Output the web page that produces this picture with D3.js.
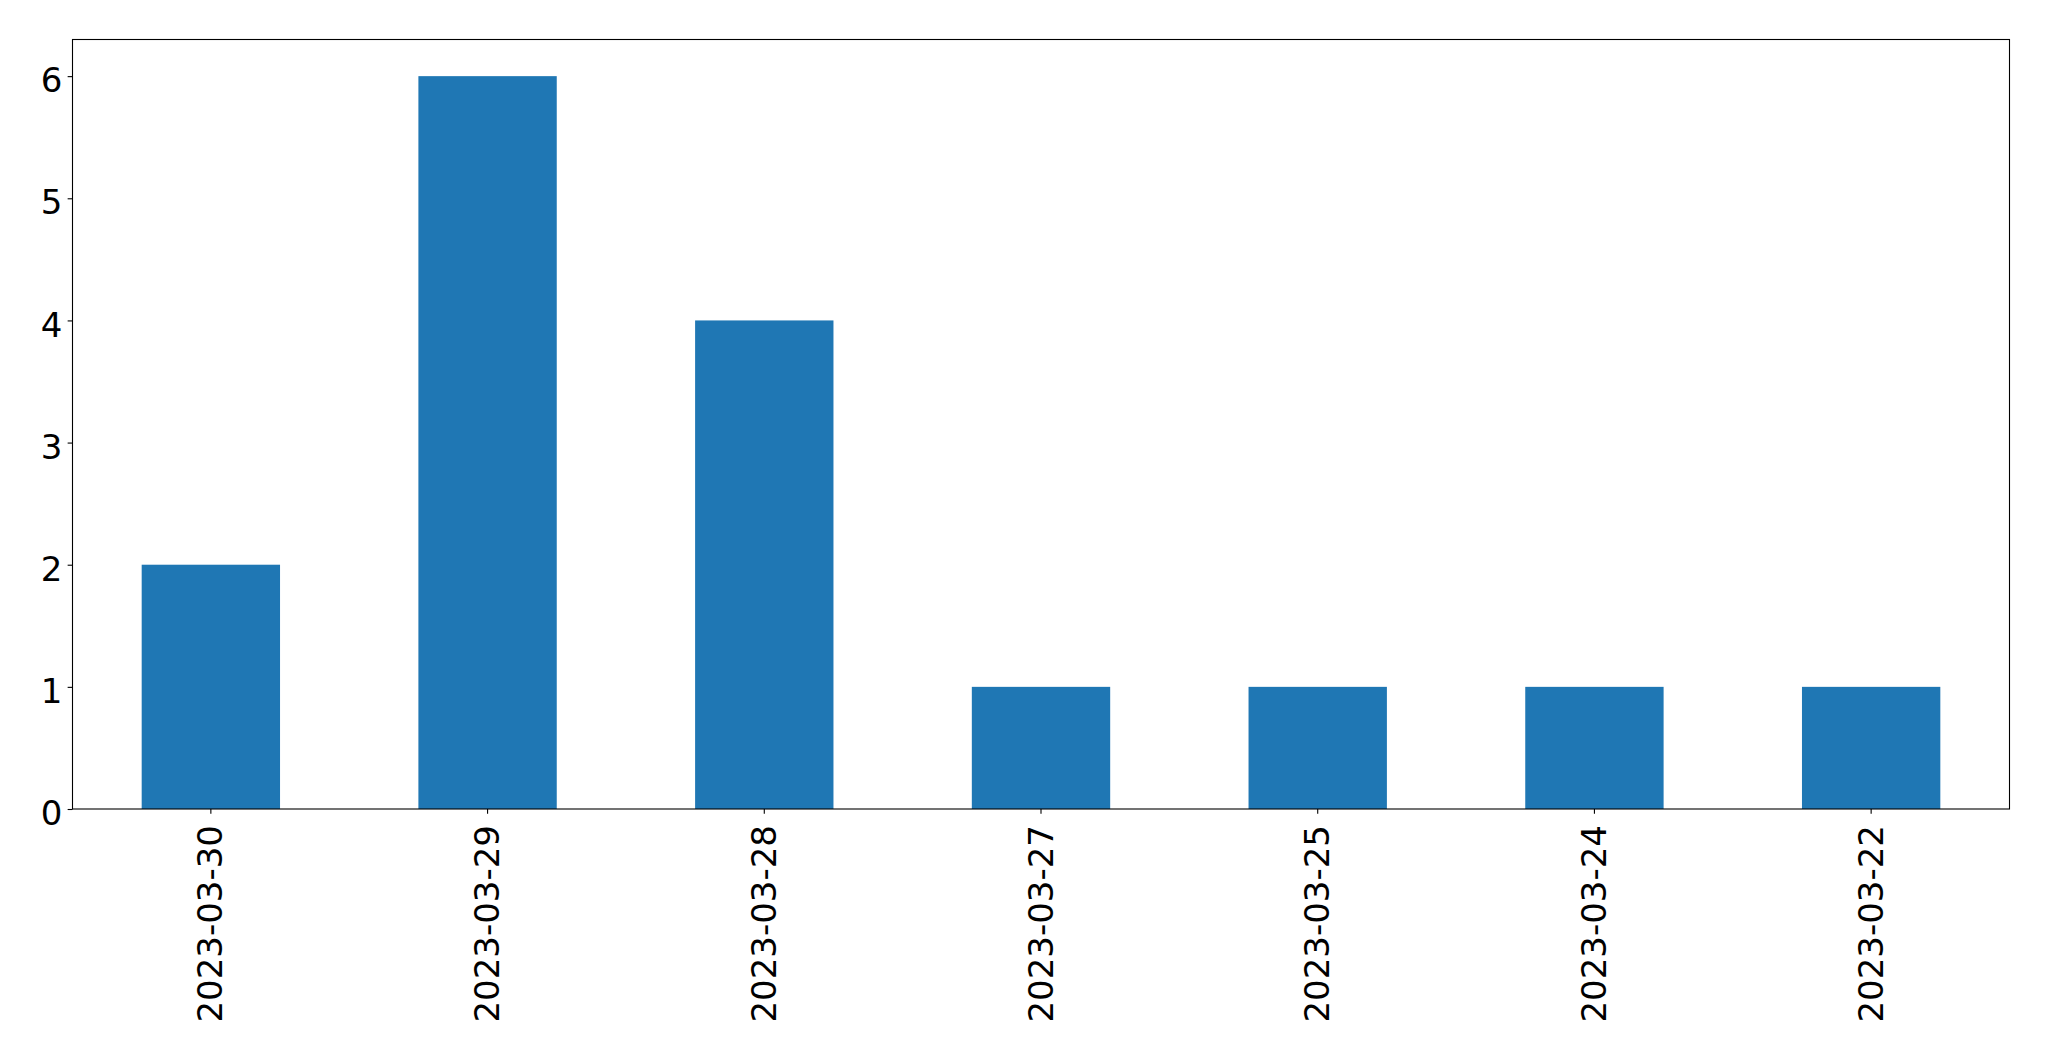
<!DOCTYPE html>
<html>
<head>
<meta charset="utf-8">
<script src="https://cdn.jsdelivr.net/npm/d3@7"></script>
<style>
  html, body { margin: 0; padding: 0; background: #fff; }
  svg { display: block; }
  text { font-family: "DejaVu Sans", sans-serif; fill: #000; }
</style>
</head>
<body>
<svg id="chart" width="2049" height="1061"></svg>
<script>
const categories = ["2023-03-30", "2023-03-29", "2023-03-28", "2023-03-27", "2023-03-25", "2023-03-24", "2023-03-22"];
const values = [2, 6, 4, 1, 1, 1, 1];
const yTicks = [0, 1, 2, 3, 4, 5, 6];

const W = 2049, H = 1061;
const margin = { left: 72.5, right: W - 2009.5, top: 39.5, bottom: H - 809 };
const plotW = W - margin.left - margin.right;
const plotH = H - margin.top - margin.bottom;

const svg = d3.select("#chart");
const g = svg.append("g").attr("transform", `translate(${margin.left},${margin.top})`);

const x = d3.scaleBand().domain(categories).range([0, plotW]).paddingInner(0.5).paddingOuter(0.25);
const y = d3.scaleLinear().domain([0, d3.max(values) * 1.05]).range([plotH, 0]);

g.selectAll("rect.bar").data(values).enter().append("rect")
  .attr("class", "bar")
  .attr("x", (d, i) => x(categories[i]))
  .attr("width", x.bandwidth())
  .attr("y", d => y(d))
  .attr("height", d => y(0) - y(d))
  .attr("fill", "#1f77b4");

const fs = 34;
const tickLen = 4.86;

// y axis
const yAxis = d3.axisLeft(y).tickValues(yTicks).tickFormat(d3.format("d")).tickSize(tickLen).tickPadding(4.86);
const ya = g.append("g").call(yAxis);
ya.select(".domain").remove();
ya.selectAll(".tick line").attr("stroke", "#000").attr("stroke-width", 1.1);
ya.selectAll(".tick text").attr("font-size", fs).attr("dy", "0.46em").attr("x", -tickLen - 5.2);

// x axis
const xAxis = d3.axisBottom(x).tickSize(tickLen).tickSizeOuter(0);
const xa = g.append("g").attr("transform", `translate(0,${plotH})`).call(xAxis);
xa.select(".domain").remove();
xa.selectAll(".tick line").attr("stroke", "#000").attr("stroke-width", 1.1);
xa.selectAll(".tick text")
  .attr("font-size", fs)
  .attr("text-anchor", "end")
  .attr("dy", null)
  .attr("y", 0)
  .attr("transform", `translate(11.5,${16}) rotate(-90)`);

// frame
g.append("rect")
  .attr("x", 0).attr("y", 0).attr("width", plotW).attr("height", plotH)
  .attr("fill", "none").attr("stroke", "#000").attr("stroke-width", 1.1);
</script>
</body>
</html>
